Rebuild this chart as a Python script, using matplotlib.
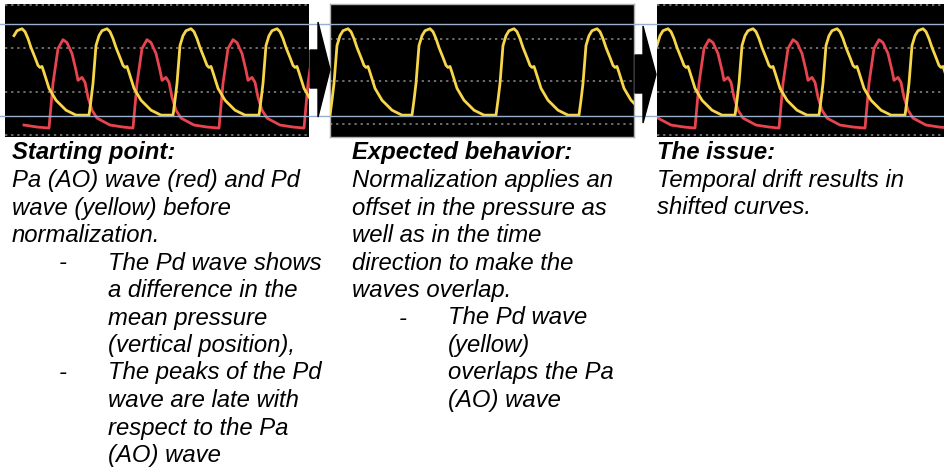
import numpy as np
import matplotlib
matplotlib.use("Agg")
import matplotlib.pyplot as plt
from matplotlib.patches import Polygon

W, H = 945, 471

# one heart beat (time from foot in s, pressure in mmHg)
yellow_t = [0.00, 0.02, 0.04, 0.07, 0.10, 0.13, 0.18, 0.21, 0.24, 0.27, 0.31,
            0.34, 0.36, 0.38, 0.40, 0.45, 0.52, 0.62, 0.72]
yellow_p = [22.9, 40.1, 59.5, 103.1, 114.5, 120.2, 122.5, 119.1, 111.1, 100.8, 89.3,
            80.2, 77.9, 79.0, 72.1, 53.8, 40.1, 28.6, 22.9]
red_t = [0.00, 0.04, 0.09, 0.14, 0.18, 0.23, 0.27, 0.29, 0.33, 0.36, 0.39,
         0.43, 0.48, 0.61, 0.74]
red_p = [8.0, 59.5, 99.6, 109.9, 106.5, 93.9, 74.4, 63.0, 66.4, 60.7, 43.5,
         28.6, 19.5, 11.5, 9.2]

# beat onsets per panel (s)
p1_yellow = [-0.01, 0.84, 1.68, 2.54]
p1_red = [-0.42, 0.44, 1.28, 2.14, 2.99]
p2_yellow = [0.00, 0.82, 1.66, 2.49]
p3_yellow = [-0.07, 0.78, 1.62, 2.48]
p3_red = [-0.47, 0.38, 1.22, 2.08, 2.93]

ref_lines = [127.1, 21.8]
grid_13 = [0, 50, 100, 150]
grid_2 = [12.6, 61.8, 111.0]

YELLOW = "#f7d64a"
RED = "#e8444f"


def beats(onsets, tt, pp, start):
    t = np.concatenate([np.array(tt) + o for o in onsets])
    p = np.concatenate([np.array(pp) for o in onsets])
    keep = t >= start
    return t[keep], p[keep]


def rect(x0, y0, x1, y1):
    return [x0 / W, 1 - y1 / H, (x1 - x0) / W, (y1 - y0) / H]


fig = plt.figure(figsize=(W / 100, H / 100), dpi=100)

panels = [
    (rect(5, 4, 309, 137), 3.04, [(p1_red, red_t, red_p, RED), (p1_yellow, yellow_t, yellow_p, YELLOW)], grid_13, 0.07),
    (rect(330, 4, 634, 137), 3.04, [(p2_yellow, yellow_t, yellow_p, YELLOW)], grid_2, 0.0),
    (rect(657, 4, 945, 137), 2.88, [(p3_red, red_t, red_p, RED), (p3_yellow, yellow_t, yellow_p, YELLOW)], grid_13, 0.0),
]

for i, (pos, tmax, series, grid, start) in enumerate(panels):
    ax = fig.add_axes(pos)
    ax.set_facecolor("black")
    for g in grid:
        ax.axhline(g, color="#8a8a8a", lw=1.1, ls=(0, (1.5, 2.5)), zorder=1)
    for onsets, tt, pp, col in series:
        t, p = beats(onsets, tt, pp, start)
        ax.plot(t, p, color=col, lw=2.0, solid_joinstyle="round", zorder=3)
    ax.set_xlim(0, tmax)
    ax.set_ylim(-2.3, 151)
    ax.set_xticks([])
    ax.set_yticks([])
    for s in ax.spines.values():
        s.set_visible(i == 1)
        s.set_color("#b0b0b0")
        s.set_linewidth(1.0)

# horizontal reference lines running across the whole strip
top = fig.add_axes([0, 0, 1, 1], zorder=5)
top.set_xlim(0, 1)
top.set_ylim(-384.7, 154.6)
top.axis("off")
top.patch.set_alpha(0)
for r in ref_lines:
    top.axhline(r, color="#9ab0cc", lw=1.0)


# arrows between the panels
def arrow(x0, xh, xt, ys0, ys1, yh0, yh1):
    ym = (yh0 + yh1) / 2
    pts = [(x0, ys0), (xh, ys0), (xh, yh0), (xt, ym), (xh, yh1), (xh, ys1), (x0, ys1)]
    pts = [(x / W, 1 - y / H) for x, y in pts]
    fig.patches.append(Polygon(pts, closed=True, color="black", transform=fig.transFigure, zorder=6))


arrow(310, 318, 330, 50, 88, 22, 117)
arrow(635, 643, 656, 55, 93, 26, 123)

FS = 17.2
LS = 27.5
font = dict(family="Liberation Sans", style="italic", fontsize=FS, va="center", ha="left", color="black")


def block(x, y, lines):
    for k, (dx, txt, bold) in enumerate(lines):
        fig.text((x + dx) / W, 1 - (y + k * LS) / H, txt,
                 fontweight="bold" if bold else "normal", **font)


block(12, 153, [
    (0, "Starting point:", True),
    (0, "Pa (AO) wave (red) and Pd", False),
    (0, "wave (yellow) before", False),
    (0, "normalization.", False),
    (96, "The Pd wave shows", False),
    (96, "a difference in the", False),
    (96, "mean pressure", False),
    (96, "(vertical position),", False),
    (96, "The peaks of the Pd", False),
    (96, "wave are late with", False),
    (96, "respect to the Pa", False),
    (96, "(AO) wave", False),
])
for k in (4, 8):
    fig.text(59 / W, 1 - (153 + k * LS) / H, "-", **font)

block(352, 153, [
    (0, "Expected behavior:", True),
    (0, "Normalization applies an", False),
    (0, "offset in the pressure as", False),
    (0, "well as in the time", False),
    (0, "direction to make the", False),
    (0, "waves overlap.", False),
    (96, "The Pd wave", False),
    (96, "(yellow)", False),
    (96, "overlaps the Pa", False),
    (96, "(AO) wave", False),
])
fig.text(399 / W, 1 - (153 + 6 * LS) / H, "-", **font)

block(657, 153, [
    (0, "The issue:", True),
    (0, "Temporal drift results in", False),
    (0, "shifted curves.", False),
])

fig.savefig("out.png", dpi=100, facecolor="white")
